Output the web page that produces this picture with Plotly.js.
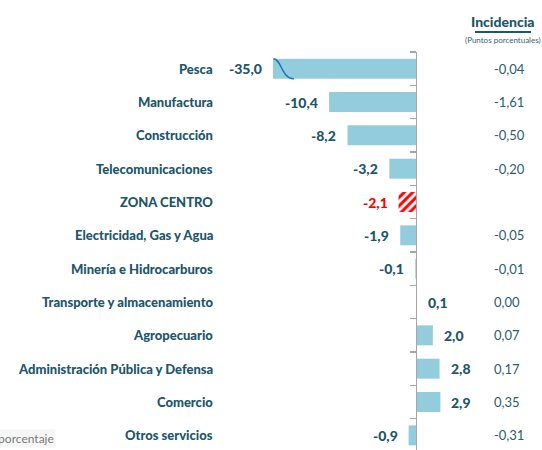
<!DOCTYPE html>
<html>
<head>
<meta charset="utf-8">
<script src="https://cdn.plot.ly/plotly-3.0.1.min.js"></script>
<style>html,body{margin:0;padding:0;background:#fff;}#chart{width:542px;height:450px;}</style>
</head>
<body>
<div id="chart"></div>
<script>
// ---- data ----
const categories = ["Pesca", "Manufactura", "Construcción", "Telecomunicaciones", "ZONA CENTRO",
  "Electricidad, Gas y Agua", "Minería e Hidrocarburos", "Transporte y almacenamiento",
  "Agropecuario", "Administración Pública y Defensa", "Comercio", "Otros servicios"];
const variacion = [-35.0, -10.4, -8.2, -3.2, -2.1, -1.9, -0.1, 0.1, 2.0, 2.8, 2.9, -0.9];
const incidencia = [-0.04, -1.61, -0.50, -0.20, null, -0.05, -0.01, 0.00, 0.07, 0.17, 0.35, -0.31];
const totalCategory = "ZONA CENTRO";
const headerTitle = "Incidencia";
const headerSub = "(Puntos porcentuales)";
const footText = "en porcentaje";

// ---- layout constants ----
const W = 542, H = 450;
const ML = 273, MR = 0, MT = 52, MB = 0;
const PW = W - ML - MR;
const XMIN = -17.1, XMAX = 15.04;
const YTOP = -0.5, YBOT = 11.44;
const FONT = 'Lato, "DejaVu Sans Condensed", sans-serif';
const TEAL = '#20566A';
const BAR = '#93CDDD';
const RED = '#FF0000';

const px2paperX = p => (p - ML) / PW;
const fmt = (v, d) => v.toFixed(d).replace('.', ',');

const isTotal = categories.map(c => c === totalCategory);

const mainTrace = {
  type: 'bar',
  orientation: 'h',
  y: categories.filter((c, i) => !isTotal[i]),
  x: variacion.filter((v, i) => !isTotal[i]),
  marker: {color: BAR, line: {width: 0}},
  hoverinfo: 'none',
  cliponaxis: true
};
const totalTrace = {
  type: 'bar',
  orientation: 'h',
  y: categories.filter((c, i) => isTotal[i]),
  x: variacion.filter((v, i) => isTotal[i]),
  marker: {
    color: '#FFFFFF',
    line: {width: 0},
    pattern: {shape: '/', fgcolor: RED, bgcolor: '#FFFFFF', fillmode: 'replace', size: 6, solidity: 0.5}
  },
  hoverinfo: 'none'
};

const annotations = [];
categories.forEach((c, i) => {
  annotations.push({
    xref: 'paper', yref: 'y', x: px2paperX(215), y: c,
    xanchor: 'right', yanchor: 'middle', showarrow: false,
    text: c,
    font: {family: FONT, size: 13, color: TEAL, weight: 900}
  });
  const v = variacion[i];
  const neg = v < 0;
  annotations.push({
    xref: 'x', yref: 'y', x: Math.max(v, XMIN), y: c,
    xanchor: neg ? 'right' : 'left', yanchor: 'middle', showarrow: false,
    xshift: neg ? -9 : 9,
    text: fmt(v, 1),
    font: {family: FONT, size: 14, color: isTotal[i] ? RED : TEAL, weight: 900}
  });
  if (incidencia[i] !== null) {
    annotations.push({
      xref: 'paper', yref: 'y', x: px2paperX(492), y: c,
      xanchor: 'left', yanchor: 'middle', showarrow: false,
      text: fmt(incidencia[i], 2),
      font: {family: FONT, size: 13, color: '#2C5D6E'}
    });
  }
});

annotations.push({
  xref: 'paper', yref: 'paper', x: px2paperX(503), y: 1 + (MT - 21) / (H - MT - MB),
  xanchor: 'center', yanchor: 'middle', showarrow: false,
  text: headerTitle,
  font: {family: FONT, size: 14, color: TEAL, weight: 900}
});
annotations.push({
  xref: 'paper', yref: 'paper', x: px2paperX(503), y: 1 + (MT - 40) / (H - MT - MB),
  xanchor: 'center', yanchor: 'middle', showarrow: false,
  text: headerSub,
  font: {family: FONT, size: 8, color: '#3D6270'}
});
annotations.push({
  xref: 'paper', yref: 'paper', x: px2paperX(56), y: 1 - (438 - MT) / (H - MT - MB),
  xanchor: 'right', yanchor: 'middle', showarrow: false,
  text: footText, bgcolor: '#F6F6F6',
  font: {family: FONT, size: 12, color: '#7A7A7A'}
});

// broken-bar squiggle on the truncated first bar
const yspan = YBOT - YTOP;
const yPaper = v => 1 - (v - YTOP) / yspan;
const bw = 0.6;
const yt = yPaper(0 - bw / 2), yb = yPaper(0 + bw / 2);
const x0 = XMIN + 0.05, x1 = XMIN + 2.5, xc = XMIN + 1.0;
const shapes = [
  {
    type: 'path', xref: 'x', yref: 'paper',
    path: `M ${x0},${yt} C ${xc},${yt} ${xc},${yb} ${x1},${yb}`,
    line: {color: '#1F6FBF', width: 1.5}
  },
  {
    type: 'line', xref: 'paper', yref: 'paper',
    x0: px2paperX(475), x1: px2paperX(531),
    y0: 1 + (MT - 32) / (H - MT - MB), y1: 1 + (MT - 32) / (H - MT - MB),
    line: {color: TEAL, width: 1.8}
  }
];

const layout = {
  width: W, height: H,
  margin: {l: ML, r: MR, t: MT, b: MB, pad: 0},
  paper_bgcolor: '#FFFFFF', plot_bgcolor: '#FFFFFF',
  showlegend: false,
  barmode: 'overlay',
  bargap: 0.4,
  xaxis: {range: [XMIN, XMAX], visible: false, fixedrange: true},
  yaxis: {
    type: 'category',
    categoryorder: 'array', categoryarray: categories,
    range: [YBOT, YTOP],
    anchor: 'free',
    position: (0 - XMIN) / (XMAX - XMIN),
    side: 'left',
    showticklabels: false,
    showline: true, linecolor: '#A6A6A6', linewidth: 1.3,
    ticks: 'outside', tickson: 'boundaries', ticklen: 6, tickcolor: '#A6A6A6', tickwidth: 1.3,
    showgrid: false, zeroline: false, fixedrange: true
  },
  annotations: annotations,
  shapes: shapes
};

Plotly.newPlot('chart', [mainTrace, totalTrace], layout, {displayModeBar: false, staticPlot: true});
</script>
</body>
</html>
